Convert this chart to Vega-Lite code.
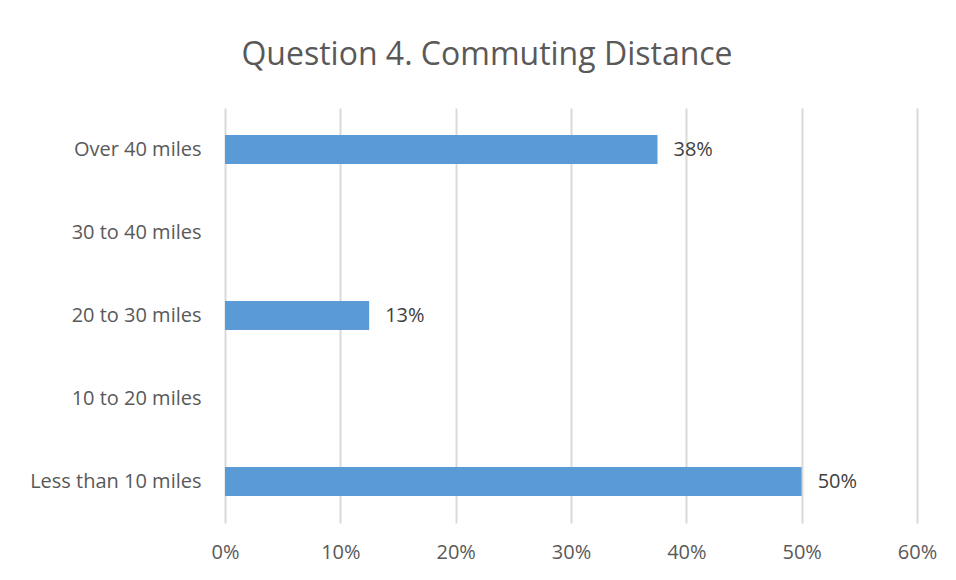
{
  "$schema": "https://vega.github.io/schema/vega-lite/v6.json",
  "width": 692,
  "height": 415,
  "autosize": {"type": "none"},
  "padding": {"left": 225, "top": 108, "right": 39, "bottom": 57},
  "background": "white",
  "title": {
    "text": "Question 4. Commuting Distance",
    "font": "Open Sans",
    "fontSize": 32,
    "fontWeight": "normal",
    "color": "#595959",
    "anchor": "middle",
    "frame": "group",
    "dx": -84,
    "offset": 36
  },
  "data": {
    "values": [
      {"distance": "Over 40 miles", "share": 0.375},
      {"distance": "30 to 40 miles", "share": 0},
      {"distance": "20 to 30 miles", "share": 0.125},
      {"distance": "10 to 20 miles", "share": 0},
      {"distance": "Less than 10 miles", "share": 0.5}
    ]
  },
  "encoding": {
    "y": {
      "field": "distance",
      "type": "nominal",
      "sort": ["Over 40 miles", "30 to 40 miles", "20 to 30 miles", "10 to 20 miles", "Less than 10 miles"],
      "scale": {"paddingInner": 0.65, "paddingOuter": 0.325},
      "axis": {
        "title": null,
        "domain": false,
        "ticks": false,
        "grid": false,
        "labelPadding": 24,
        "labelFont": "Open Sans",
        "labelFontSize": 20,
        "labelColor": "#595959"
      }
    },
    "x": {
      "field": "share",
      "type": "quantitative",
      "scale": {"domain": [0, 0.6], "nice": false},
      "axis": {
        "title": null,
        "format": ".0%",
        "values": [0, 0.1, 0.2, 0.3, 0.4, 0.5, 0.6],
        "domain": false,
        "ticks": false,
        "grid": true,
        "gridColor": "#D9D9D9",
        "gridWidth": 2,
        "labelFlush": false,
        "labelPadding": 19,
        "labelFont": "Open Sans",
        "labelFontSize": 20,
        "labelColor": "#595959"
      }
    }
  },
  "layer": [
    {"mark": {"type": "bar", "color": "#5B9BD5"}},
    {
      "transform": [{"filter": "datum.share > 0"}],
      "mark": {"type": "text", "align": "left", "baseline": "middle", "dx": 16, "font": "Open Sans", "fontSize": 20, "color": "#404040"},
      "encoding": {"text": {"field": "share", "type": "quantitative", "format": ".0%"}}
    }
  ],
  "config": {"view": {"stroke": null}}
}
